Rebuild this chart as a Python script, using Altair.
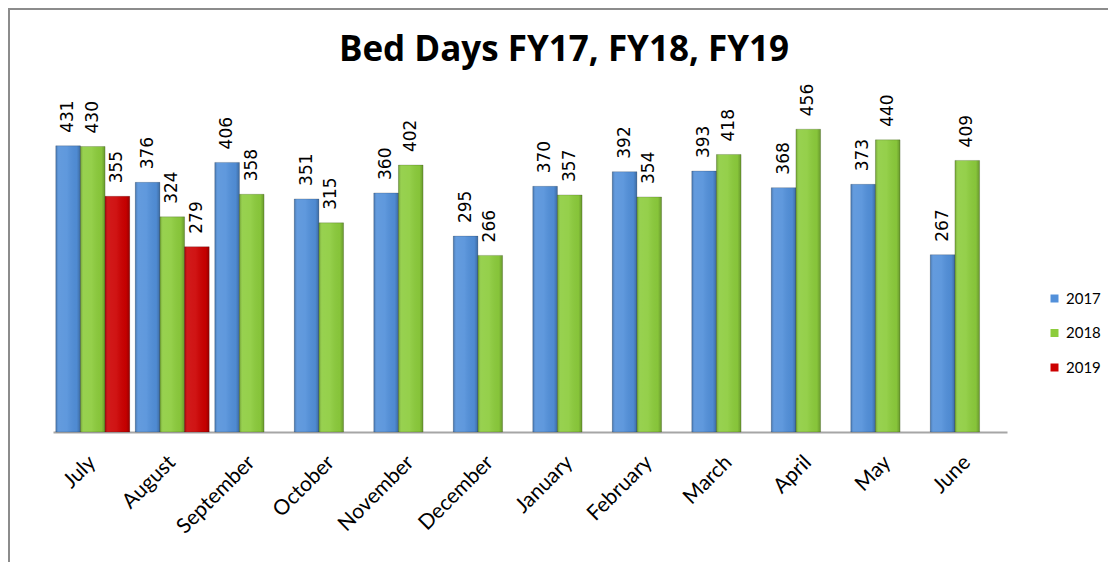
import altair as alt
import pandas as pd

months = ["July", "August", "September", "October", "November", "December",
          "January", "February", "March", "April", "May", "June"]
series = ["2017", "2018", "2019"]
v2017 = [431, 376, 406, 351, 360, 295, 370, 392, 393, 368, 373, 267]
v2018 = [430, 324, 358, 315, 402, 266, 357, 354, 418, 456, 440, 409]
v2019 = [355, 279]
colors = ["#5290DA", "#8CCC3C", "#CC0000"]

rows = []
for m, v in zip(months, v2017):
    rows.append({"month": m, "year": "2017", "value": v})
for m, v in zip(months, v2018):
    rows.append({"month": m, "year": "2018", "value": v})
for m, v in zip(months, v2019):
    rows.append({"month": m, "year": "2019", "value": v})
df = pd.DataFrame(rows)

W, H = 954, 332
PL, PT, PR, PB = 45, 92, 101, 130

x_enc = alt.X("month:N", sort=months, title=None,
              scale=alt.Scale(paddingInner=0.07, paddingOuter=0.035),
              axis=alt.Axis(labelAngle=-45, labelAlign="right", labelBaseline="middle",
                            labelPadding=27, ticks=False, tickSize=0, domainColor="#A6A6A6",
                            domainWidth=2, labelFont="Lato", labelFontSize=21,
                            labelColor="#000000", grid=False))
xo_enc = alt.XOffset("year:N", scale=alt.Scale(domain=series, paddingInner=0, paddingOuter=0))
y_enc = alt.Y("value:Q", scale=alt.Scale(domain=[0, 500]), axis=None)

base = alt.Chart(df)

bars = base.mark_bar(stroke="#000000", strokeOpacity=0.18, strokeWidth=1).encode(
    x=x_enc, xOffset=xo_enc, y=y_enc,
    color=alt.Color("year:N", scale=alt.Scale(domain=series, range=colors),
                    legend=alt.Legend(title=None, orient="none", legendX=994, legendY=191,
                                      symbolType="square", symbolSize=64, symbolStrokeWidth=0,
                                      rowPadding=18.5, labelFont="Lato", labelFontSize=15,
                                      labelColor="#000000", labelOffset=4)),
)

shade = base.mark_bar(
    color={"gradient": "linear", "x1": 0, "y1": 0, "x2": 1, "y2": 0,
           "stops": [{"offset": 0, "color": "rgba(0,0,0,0.22)"},
                     {"offset": 0.12, "color": "rgba(255,255,255,0.10)"},
                     {"offset": 0.45, "color": "rgba(255,255,255,0.08)"},
                     {"offset": 0.85, "color": "rgba(0,0,0,0.04)"},
                     {"offset": 1, "color": "rgba(0,0,0,0.25)"}]}
).encode(x=x_enc, xOffset=xo_enc, y=y_enc)

labels = base.mark_text(angle=270, align="left", baseline="middle", dx=13,
                        font="DejaVu Sans", fontSize=17, color="#000000").encode(
    x=x_enc, xOffset=xo_enc, y=y_enc, text=alt.Text("value:Q"))

frame_df = pd.DataFrame({"k": [0]})
frame = alt.Chart(frame_df).mark_rect(fill=None, stroke="#8C8C8C", strokeWidth=2).encode(
    x=alt.value(-PL + 1), x2=alt.value(W + PR + 20),
    y=alt.value(-PT + 1), y2=alt.value(H + PB + 20))

chart = alt.layer(frame, bars, shade, labels).properties(
    width=W, height=H,
    padding={"left": PL, "top": PT, "right": PR, "bottom": PB},
    autosize=alt.AutoSizeParams(type="none"),
    title=alt.TitleParams("Bed Days FY17, FY18, FY19", font="Open Sans", fontSize=35,
                          fontWeight="bold", color="#000000", anchor="middle",
                          baseline="alphabetic", offset=-88, dx=34),
).configure_view(stroke=None)

chart.save("out.html", embed_options={"renderer": "svg", "actions": False})
